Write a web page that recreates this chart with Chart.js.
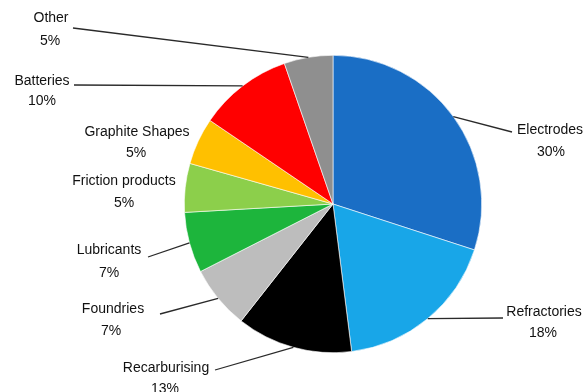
<!DOCTYPE html>
<html>
<head>
<meta charset="utf-8">
<script src="https://cdn.jsdelivr.net/npm/chart.js@4/dist/chart.umd.min.js"></script>
<style>
html,body{margin:0;padding:0;background:#fff;}
#wrap{width:587px;height:392px;position:relative;}
</style>
</head>
<body>
<div id="wrap"><canvas id="c"></canvas></div>
<script>
const categories = ["Electrodes","Refractories","Recarburising","Foundries","Lubricants","Friction products","Graphite Shapes","Batteries","Other"];
const shares = [30, 18, 12.6, 6.9, 6.6, 5.3, 5.1, 10.2, 5.3];
const percentLabels = ["30%","18%","13%","7%","7%","5%","5%","10%","5%"];
const sliceColors = ["#1a6ec5","#18a6e8","#000000","#bdbdbd","#1db53c","#8ccf4b","#ffc000","#ff0000","#8f8f8f"];

// label layout: name text centre, percent text centre, leader start (null = no leader)
const labelLayout = [
  {nx:550, ny:130, px:551, py:152, lx:512, ly:132},
  {nx:544, ny:312, px:543, py:333, lx:503, ly:318},
  {nx:166, ny:368, px:165, py:389, lx:215, ly:370},
  {nx:113, ny:309, px:111, py:331, lx:160, ly:314},
  {nx:109, ny:250, px:109, py:273, lx:148, ly:257},
  {nx:124, ny:181, px:124, py:203, lx:null, ly:null},
  {nx:137, ny:132, px:136, py:153, lx:null, ly:null},
  {nx:42, ny:81, px:42, py:101, lx:74, ly:85},
  {nx:51, ny:18, px:50, py:41, lx:73, ly:28}
];

const leaderPlugin = {
  id: 'leaders',
  afterDatasetsDraw(chart) {
    const ctx = chart.ctx;
    const arcs = chart.getDatasetMeta(0).data;
    ctx.save();
    arcs.forEach((arc, i) => {
      const L = labelLayout[i];
      const p = arc.getProps(['x','y','startAngle','endAngle','outerRadius'], true);
      const mid = (p.startAngle + p.endAngle) / 2;
      const ex = p.x + Math.cos(mid) * p.outerRadius;
      const ey = p.y + Math.sin(mid) * p.outerRadius;
      if (L.lx !== null) {
        ctx.beginPath();
        ctx.strokeStyle = '#2a2a2a';
        ctx.lineWidth = 1.3;
        ctx.moveTo(L.lx, L.ly);
        ctx.lineTo(ex, ey);
        ctx.stroke();
      }
      ctx.fillStyle = '#111111';
      ctx.font = '14px "Liberation Sans", Arial, sans-serif';
      ctx.textAlign = 'center';
      ctx.textBaseline = 'middle';
      ctx.fillText(categories[i], L.nx, L.ny);
      ctx.fillText(percentLabels[i], L.px, L.py);
    });
    ctx.restore();
  }
};

new Chart(document.getElementById('c'), {
  type: 'pie',
  data: {
    labels: categories,
    datasets: [{
      data: shares,
      backgroundColor: sliceColors,
      borderColor: '#ffffff',
      borderWidth: 0.6
    }]
  },
  options: {
    responsive: true,
    maintainAspectRatio: false,
    animation: false,
    layout: { padding: { left: 184, right: 105, top: 55, bottom: 39 } },
    plugins: { legend: { display: false }, tooltip: { enabled: false } }
  },
  plugins: [leaderPlugin]
});
</script>
</body>
</html>
